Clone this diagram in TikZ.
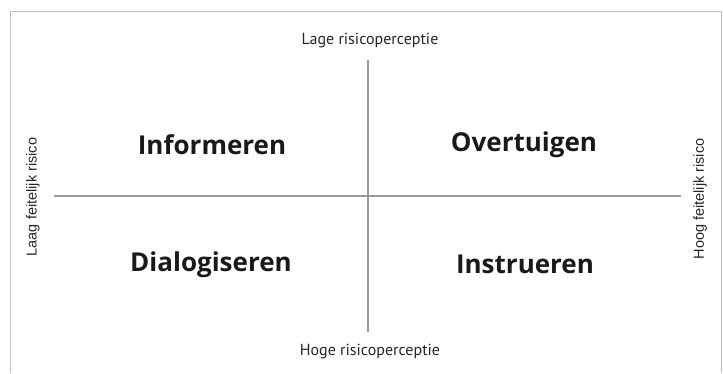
\documentclass[tikz,border=0pt]{standalone}
\usepackage{fontspec}
\setmainfont{PT Sans}
\newfontfamily\sidefont{Liberation Sans}
\newfontfamily\quadfont{Open Sans}
\usetikzlibrary{positioning}

\begin{document}
\begin{tikzpicture}[x=1pt,y=-1pt,
  axis line/.style={draw=black!40,line width=1.6pt},
  quadrant/.style={font=\quadfont\fontsize{26}{30}\selectfont\bfseries,text=black!90},
  pole/.style={font=\fontsize{16}{19}\selectfont,text=black!85},
  side/.style={font=\sidefont\fontsize{14.5}{17}\selectfont,rotate=90,text=black!85}]

  \useasboundingbox (0,0) rectangle (723,373);
  \draw[black!25,line width=1pt] (10,373) -- (10,11) -- (721,11) -- (721,373);

  % ends of the two axes
  \coordinate (top) at (368,60);
  \coordinate (bottom) at (368,332);
  \coordinate (left) at (54,196);
  \coordinate (right) at (681,196);

  \node[pole] (lage) at (370,41) {Lage risicoperceptie};
  \node[pole] (hoge) at (370,352) {Hoge risicoperceptie};
  \node[side] (laag) at (33,197) {Laag feitelijk risico};
  \node[side] (hoog) at (700,199) {Hoog feitelijk risico};

  \node[quadrant] (informeren) at (212,145) {Informeren};
  \node[quadrant] (overtuigen) at (524,145) {Overtuigen};
  \node[quadrant] (dialogiseren) at (211,265) {Dialogiseren};
  \node[quadrant] (instrueren) at (525,264) {Instrueren};

  \draw[axis line] (top) -- (bottom);
  \draw[axis line] (left) -- (right);
\end{tikzpicture}
\end{document}
